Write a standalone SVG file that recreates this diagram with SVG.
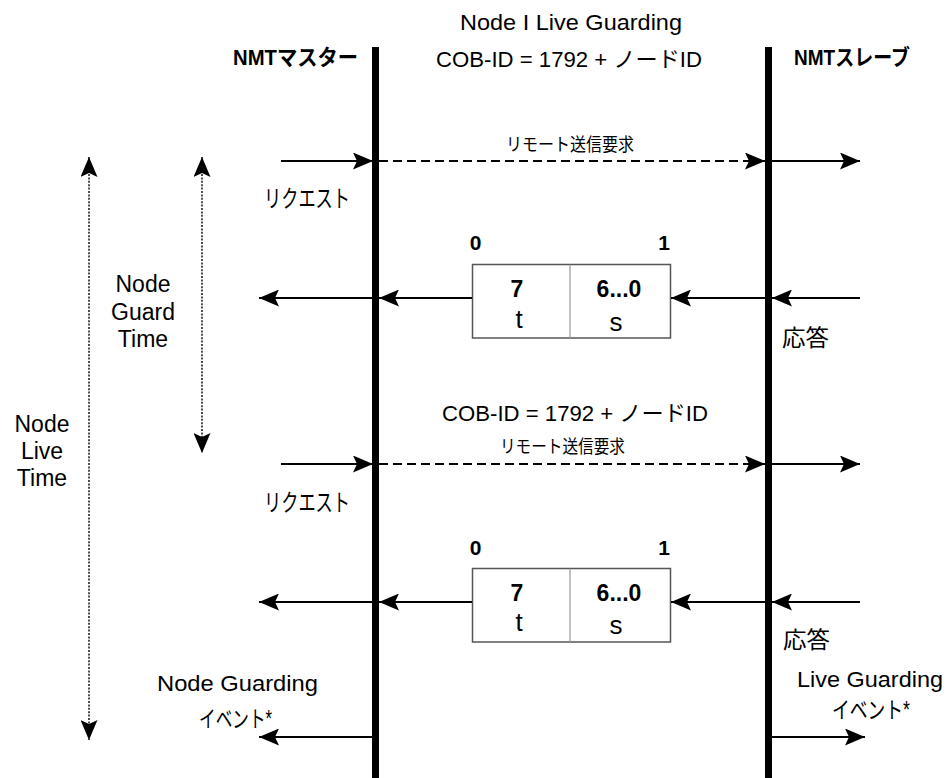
<svg xmlns="http://www.w3.org/2000/svg" width="952" height="778" viewBox="0 0 952 778">
<style>
text{font-family:"Liberation Sans","Noto Sans CJK JP",sans-serif;fill:#000}
.t22{font-size:22px}
.t23{font-size:23px}
.t26{font-size:26px}
.k24{font-size:24px}
.k23{font-size:23px}
.k18{font-size:18px}
.b21{font-size:21px;font-weight:bold}
.b22{font-size:22px;font-weight:bold}
.n23{font-size:23px;font-weight:600}
.life{stroke:#000;stroke-width:7}
.msg{stroke:#000;stroke-width:2;fill:none;marker-end:url(#ah)}
.dash{stroke-dasharray:9 5}
.dot{stroke:#222;stroke-width:1.6;stroke-dasharray:2 1.4;fill:none;marker-start:url(#ahs);marker-end:url(#ah)}
.box{fill:#fff;stroke:#555;stroke-width:1.5}
.div{stroke:#999;stroke-width:1.2}
</style>
<defs>
<marker id="ah" markerUnits="userSpaceOnUse" viewBox="0 0 20 17" refX="20" refY="8.5" markerWidth="20" markerHeight="17" orient="auto">
<path d="M0,0 L20,8.5 L0,17 L4,8.5 Z" fill="#000"/>
</marker>
<marker id="ahs" markerUnits="userSpaceOnUse" viewBox="0 0 20 17" refX="20" refY="8.5" markerWidth="20" markerHeight="17" orient="auto-start-reverse">
<path d="M0,0 L20,8.5 L0,17 L4,8.5 Z" fill="#000"/>
</marker>
</defs>
<rect width="952" height="778" fill="#fff"/>

<g id="title">
<text class="t22" x="460" y="30" textLength="222" lengthAdjust="spacingAndGlyphs">Node I Live Guarding</text>
<text class="t22" x="436" y="67" textLength="266" lengthAdjust="spacingAndGlyphs">COB-ID = 1792 + ノードID</text>
</g>

<g id="master">
<line class="life" x1="375.5" y1="47" x2="375.5" y2="778"/>
<text class="b22" x="233" y="65" textLength="125" lengthAdjust="spacingAndGlyphs">NMTマスター</text>
</g>

<g id="slave">
<line class="life" x1="768.5" y1="47" x2="768.5" y2="778"/>
<text class="b22" x="794" y="65" textLength="116" lengthAdjust="spacingAndGlyphs">NMTスレーブ</text>
</g>

<g id="node-live-time">
<text class="t23" x="42" y="432" text-anchor="middle">Node</text>
<text class="t23" x="42" y="459" text-anchor="middle">Live</text>
<text class="t23" x="42" y="486" text-anchor="middle">Time</text>
</g>

<g id="node-guard-time">
<text class="t23" x="143" y="292" text-anchor="middle">Node</text>
<text class="t23" x="143" y="320" text-anchor="middle">Guard</text>
<text class="t23" x="143" y="347" text-anchor="middle">Time</text>
</g>

<g id="request1">
<text class="k18" x="506" y="151" textLength="128" lengthAdjust="spacingAndGlyphs">リモート送信要求</text>
<text class="k24" x="264" y="207" textLength="86" lengthAdjust="spacingAndGlyphs">リクエスト</text>
</g>

<g id="frame1">
<text class="b21" x="475.5" y="250" text-anchor="middle">0</text>
<text class="b21" x="664" y="250" text-anchor="middle">1</text>
<rect class="box" x="472.5" y="264.5" width="198" height="73.5"/>
<line class="div" x1="570" y1="264.5" x2="570" y2="338"/>
<text class="n23" x="517" y="297" text-anchor="middle">7</text>
<text class="t26" x="519" y="328" text-anchor="middle">t</text>
<text class="n23" x="619" y="297" text-anchor="middle">6...0</text>
<text class="t26" x="616" y="331" text-anchor="middle">s</text>
<text class="t23" x="782" y="346" textLength="47" lengthAdjust="spacingAndGlyphs">応答</text>
</g>

<g id="request2">
<text class="t22" x="442" y="421" textLength="266" lengthAdjust="spacingAndGlyphs">COB-ID = 1792 + ノードID</text>
<text class="k18" x="500" y="453" textLength="125" lengthAdjust="spacingAndGlyphs">リモート送信要求</text>
<text class="k24" x="264" y="511" textLength="86" lengthAdjust="spacingAndGlyphs">リクエスト</text>
</g>

<g id="frame2">
<text class="b21" x="475.5" y="555" text-anchor="middle">0</text>
<text class="b21" x="664" y="555" text-anchor="middle">1</text>
<rect class="box" x="472.5" y="568.5" width="198" height="73.5"/>
<line class="div" x1="570" y1="568.5" x2="570" y2="642"/>
<text class="n23" x="517" y="601" text-anchor="middle">7</text>
<text class="t26" x="519" y="631" text-anchor="middle">t</text>
<text class="n23" x="619" y="601" text-anchor="middle">6...0</text>
<text class="t26" x="616" y="634" text-anchor="middle">s</text>
<text class="t23" x="783" y="648" textLength="47" lengthAdjust="spacingAndGlyphs">応答</text>
</g>

<g id="node-guarding-event">
<text class="t22" x="157" y="691" textLength="161" lengthAdjust="spacingAndGlyphs">Node Guarding</text>
<text class="k23" x="199" y="727" textLength="73" lengthAdjust="spacingAndGlyphs">イベント*</text>
</g>

<g id="live-guarding-event">
<text class="t22" x="797" y="687" textLength="146" lengthAdjust="spacingAndGlyphs">Live Guarding</text>
<text class="k23" x="832" y="718" textLength="78" lengthAdjust="spacingAndGlyphs">イベント*</text>
</g>

<g id="connectors">
<line class="dot" x1="89" y1="157" x2="89" y2="740"/>
<line class="dot" x1="202" y1="157" x2="202" y2="453"/>

<line class="msg" x1="281" y1="161" x2="373" y2="161"/>
<line class="msg dash" x1="379" y1="161" x2="765" y2="161"/>
<line class="msg" x1="772" y1="161" x2="860" y2="161"/>

<line class="msg" x1="860" y1="298" x2="772" y2="298"/>
<line class="msg" x1="765" y1="298" x2="671" y2="298"/>
<line class="msg" x1="472" y1="298" x2="379" y2="298"/>
<line class="msg" x1="372" y1="298" x2="259" y2="298"/>

<line class="msg" x1="281" y1="464" x2="373" y2="464"/>
<line class="msg dash" x1="379" y1="464" x2="765" y2="464"/>
<line class="msg" x1="772" y1="464" x2="860" y2="464"/>

<line class="msg" x1="860" y1="602" x2="772" y2="602"/>
<line class="msg" x1="765" y1="602" x2="671" y2="602"/>
<line class="msg" x1="472" y1="602" x2="379" y2="602"/>
<line class="msg" x1="372" y1="602" x2="259" y2="602"/>

<line class="msg" x1="372" y1="737" x2="259" y2="737"/>
<line class="msg" x1="772" y1="737" x2="865" y2="737"/>
</g>
</svg>
